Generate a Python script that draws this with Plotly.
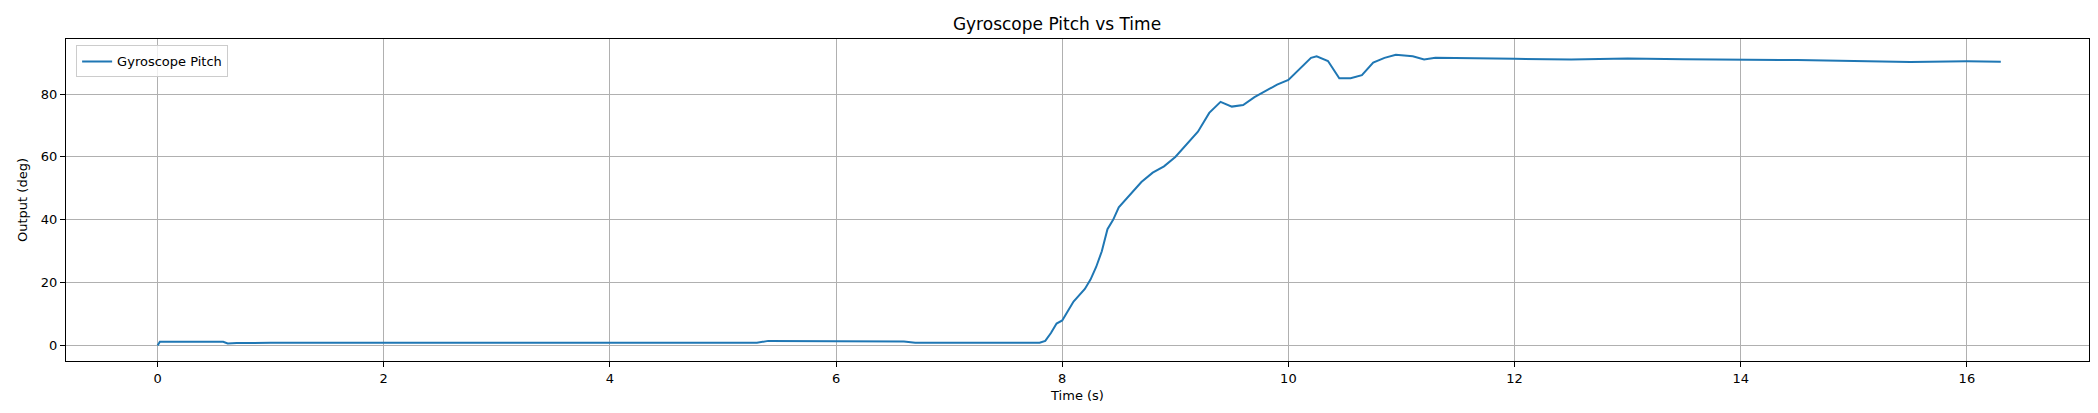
import plotly.graph_objects as go

t = [0, 0.02, 0.3, 0.58, 0.62, 0.7, 1.0, 2.0, 3.0, 4.0, 5.0, 5.3, 5.4, 6.0, 6.6, 6.7, 7.0, 7.8, 7.85, 7.9, 7.95, 8.0, 8.05, 8.1, 8.2, 8.25, 8.3, 8.35, 8.4, 8.45, 8.5, 8.6, 8.7, 8.8, 8.9, 9.0, 9.1, 9.2, 9.3, 9.4, 9.5, 9.6, 9.7, 9.8, 9.9, 10.0, 10.1, 10.2, 10.25, 10.35, 10.45, 10.55, 10.65, 10.75, 10.85, 10.95, 11.1, 11.2, 11.3, 11.6, 12.0, 12.5, 13.0, 13.5, 14.0, 14.5, 15.0, 15.5, 16.0, 16.3]
pitch = [0, 1.2, 1.2, 1.2, 0.7, 0.8, 0.9, 0.9, 0.9, 0.9, 0.9, 0.9, 1.5, 1.5, 1.3, 0.9, 0.9, 0.9, 1.5, 4, 7, 8, 11, 14, 18, 21, 25, 30, 37, 40, 44, 48, 52, 55, 57, 60, 64, 68, 74, 77.5, 76, 76.5, 79, 81, 83, 84.5, 88, 91.5, 92, 90.5, 85, 85, 86, 90, 91.5, 92.5, 92, 91, 91.5, 91.3, 91.2, 91.0, 91.3, 91.1, 91.0, 90.8, 90.5, 90.2, 90.4, 90.3]

fig = go.Figure(go.Scatter(x=t, y=pitch, mode="lines", name="Gyroscope Pitch",
                           line=dict(color="#1f77b4", width=2)))
ax = dict(showline=True, mirror=True, linecolor="black", linewidth=1, ticks="outside",
          ticklen=5, tickcolor="black", showgrid=True, gridcolor="#b0b0b0", gridwidth=1,
          zeroline=False, tickfont=dict(size=13, color="black"))
fig.update_layout(
    width=2098, height=413, template="none", plot_bgcolor="white", paper_bgcolor="white",
    margin=dict(l=58, r=17, t=31, b=60),
    font=dict(family="DejaVu Sans", color="black"),
    title=dict(text="Gyroscope Pitch vs Time", x=0.5, xanchor="center", y=0.975, yanchor="top", font=dict(size=17)),
    xaxis=dict(ax, title=dict(text="Time (s)", font=dict(size=13), standoff=6), range=[-0.81, 17.08], dtick=2),
    yaxis=dict(ax, title=dict(text="Output (deg)", font=dict(size=13), standoff=10), range=[-4.9, 97.5], dtick=20),
    showlegend=True,
    legend=dict(x=0.005, y=0.98, xanchor="left", yanchor="top", bordercolor="#cccccc", borderwidth=1,
                bgcolor="rgba(255,255,255,0.8)", font=dict(size=13)),
)
fig.write_html("out.html")
